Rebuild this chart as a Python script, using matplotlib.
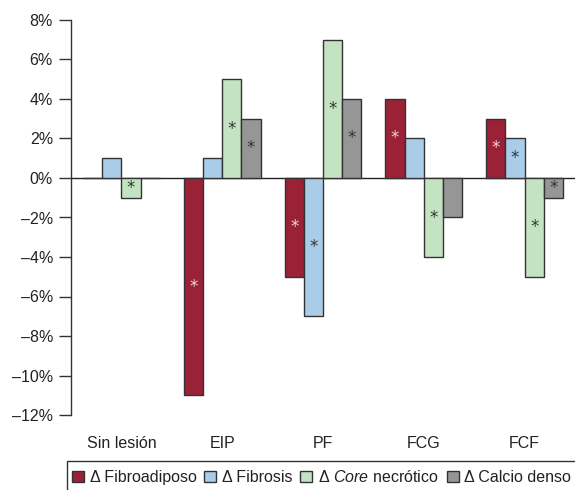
import matplotlib
matplotlib.use("Agg")
import matplotlib.pyplot as plt
import numpy as np
from matplotlib.patches import Rectangle, Patch

plt.rcParams['font.family'] = ['Liberation Sans', 'DejaVu Sans']
plt.rcParams['mathtext.fontset'] = 'custom'
plt.rcParams['mathtext.rm'] = 'Liberation Sans'
plt.rcParams['mathtext.it'] = 'Liberation Sans:italic'

categories = ["Sin lesión", "EIP", "PF", "FCG", "FCF"]
series_names = ["Δ Fibroadiposo", "Δ Fibrosis", "Δ $\\it{Core}$ necrótico", "Δ Calcio denso"]
fibroadiposo = [0, -11, -5, 4, 3]
fibrosis = [1, 1, -7, 2, 2]
core_necrotico = [-1, 5, 7, -4, -5]
calcio_denso = [0, 3, 4, -2, -1]
# significance marks (True -> asterisk in bar)
sig_fibroadiposo = [False, True, True, True, True]
sig_fibrosis = [False, False, True, False, True]
sig_core = [True, True, True, True, True]
sig_calcio = [False, True, True, False, True]
yticks = [8, 6, 4, 2, 0, -2, -4, -6, -8, -10, -12]

series = [fibroadiposo, fibrosis, core_necrotico, calcio_denso]
sigs = [sig_fibroadiposo, sig_fibrosis, sig_core, sig_calcio]
colors = ["#9b2236", "#a9cce9", "#c4e3c2", "#969696"]
star_colors = ["#f4d6dc", "#333333", "#333333", "#333333"]
edge = "#333333"
fs = 11.5

fig = plt.figure(figsize=(5.75, 4.9), dpi=100)
W, H = 575, 490
ax = fig.add_axes([71 / W, 1 - 415 / H, (575 - 71) / W, (415 - 20) / H])

x = np.arange(len(categories))
bw = 0.19
for i, (vals, sg) in enumerate(zip(series, sigs)):
    pos = x + (i - 1.5) * bw
    ax.bar(pos, vals, width=bw, color=colors[i], edgecolor=edge, linewidth=1.0, zorder=2)
    for p, v, s in zip(pos, vals, sg):
        if s:
            ax.text(p, v / 2, "*", ha="center", va="center", fontsize=12,
                    color=star_colors[i], family="DejaVu Sans", zorder=3)

ax.axhline(0, color="#222222", linewidth=1.0, zorder=1)
ax.set_xlim(-0.5, 4.5)
ax.set_ylim(-12, 8)
ax.set_yticks(yticks)
ax.set_yticklabels([f"{t}%".replace("-", "\u2013") for t in yticks])
ax.set_xticks(x)
ax.set_xticklabels(categories)
ax.tick_params(axis="y", length=8.5, width=1.0, color="#333333", labelsize=fs, pad=4.5, labelcolor="#222222")
ax.tick_params(axis="x", length=0, labelsize=fs, pad=15, labelcolor="#222222")
for s in ["top", "right", "bottom"]:
    ax.spines[s].set_visible(False)
ax.spines["left"].set_color("#333333")
ax.spines["left"].set_linewidth(1.0)

handles = [Patch(facecolor=c, edgecolor=edge, linewidth=1.0) for c in colors]
fig.legend(handles, series_names, loc="center left", bbox_to_anchor=(72 / W, 1 - 477 / H),
           ncol=4, frameon=False, fontsize=fs, handlelength=0.75, handleheight=0.75,
           handletextpad=0.35, columnspacing=0.5, borderaxespad=0, borderpad=0,
           labelcolor="#222222")
fig.add_artist(Rectangle((67 / W, -0.02), 1.0, (1 - 461 / H) + 0.02, transform=fig.transFigure,
                         fill=False, edgecolor="#333333", linewidth=1.0, clip_on=False))

fig.savefig("out.png", dpi=100)
